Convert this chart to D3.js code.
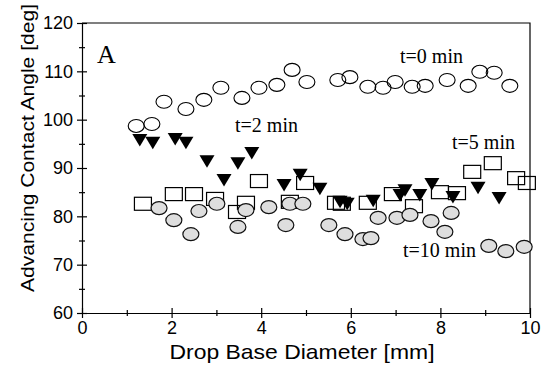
<!DOCTYPE html>
<html>
<head>
<meta charset="utf-8">
<script src="https://cdn.jsdelivr.net/npm/d3@7"></script>
<style>
  body { margin: 0; background: #fff; }
  .axis text { font-family: "Liberation Sans", Arial, sans-serif; font-size: 18px; fill: #000; }
  .axis path, .axis line { stroke: #000; stroke-width: 1.2; }
  .lbl { font-family: "Liberation Serif", "Times New Roman", serif; fill: #000; }
</style>
</head>
<body>
<div id="app"></div>
<script>
// t=0 min, open circles
const t0x = [1.21, 1.56, 1.83, 2.32, 2.72, 3.10, 3.57, 3.95, 4.35, 4.69, 5.02, 5.71, 5.98, 6.38, 6.72, 6.99, 7.37, 7.66, 8.15, 8.62, 8.88, 9.20, 9.55];
const t0y = [98.7, 99.1, 103.7, 102.2, 104.1, 106.6, 104.5, 106.6, 107.2, 110.3, 107.8, 108.2, 108.8, 106.8, 106.6, 107.8, 106.8, 107.0, 108.2, 107.0, 109.9, 109.7, 107.0];
// t=2 min, filled down triangles
const t2x = [1.29, 1.58, 2.08, 2.32, 2.79, 3.17, 3.48, 3.79, 4.51, 4.87, 5.31, 5.76, 5.92, 6.50, 7.10, 7.21, 7.54, 7.81, 8.28, 8.84, 9.31];
const t2y = [95.8, 95.2, 96.0, 95.2, 91.4, 87.5, 91.0, 93.1, 86.5, 88.6, 85.7, 83.0, 82.6, 83.2, 84.4, 85.4, 84.4, 86.7, 84.0, 85.9, 83.8];
// t=5 min, open squares
const t5x = [1.36, 2.05, 2.50, 2.97, 3.46, 3.66, 3.95, 4.64, 4.98, 5.67, 5.80, 6.38, 6.94, 7.41, 7.99, 8.37, 8.71, 9.17, 9.69, 9.93];
const t5y = [82.6, 84.6, 84.6, 83.6, 80.9, 82.8, 87.3, 83.0, 86.9, 82.8, 82.6, 82.8, 84.6, 82.1, 85.0, 84.8, 89.2, 91.0, 87.9, 86.9];
// t=10 min, grey circles
const t10x = [1.72, 2.05, 2.43, 2.61, 3.01, 3.48, 3.66, 4.17, 4.55, 4.64, 4.93, 5.51, 5.87, 6.27, 6.45, 6.61, 7.03, 7.32, 7.79, 8.10, 8.24, 9.08, 9.46, 9.87];
const t10y = [81.7, 79.2, 76.3, 81.1, 82.6, 77.8, 81.3, 81.9, 78.2, 82.6, 82.6, 78.2, 76.3, 75.3, 75.5, 79.7, 79.7, 80.3, 79.0, 76.8, 80.7, 73.9, 72.8, 73.7];

const xTicks = [0, 2, 4, 6, 8, 10];
const yTicks = [60, 70, 80, 90, 100, 110, 120];

const W = 541, H = 378;
const margin = { left: 82, right: 530, top: 23, bottom: 313 };

const xScale = d3.scaleLinear().domain([0, 10]).range([margin.left, margin.right]);
const yScale = d3.scaleLinear().domain([60, 120]).range([margin.bottom, margin.top]);

const svg = d3.select("#app").append("svg")
  .attr("width", W).attr("height", H);

const zip = (xs, ys) => xs.map((x, i) => ({ x: x, y: ys[i] }));

/* minor ticks */
const gx = svg.append("g").attr("class", "axis")
  .attr("transform", `translate(0,${margin.bottom})`);
gx.call(d3.axisBottom(xScale).tickValues(d3.range(1, 10, 2)).tickSize(3).tickFormat(""))
  .call(g => g.select(".domain").remove());
gx.selectAll(".tick line").attr("y1", -3);

const gy = svg.append("g").attr("class", "axis")
  .attr("transform", `translate(${margin.left},0)`);
gy.call(d3.axisLeft(yScale).tickValues(d3.range(65, 120, 10)).tickSize(3).tickFormat(""))
  .call(g => g.select(".domain").remove());
gy.selectAll(".tick line").attr("x1", 3);

/* major axes */
const ax = svg.append("g").attr("class", "axis")
  .attr("transform", `translate(0,${margin.bottom})`)
  .call(d3.axisBottom(xScale).tickValues(xTicks).tickSize(5).tickSizeOuter(0).tickPadding(3));
ax.selectAll(".tick line").attr("y1", -5);
ax.selectAll("text").style("font-size", "18px");

const ay = svg.append("g").attr("class", "axis")
  .attr("transform", `translate(${margin.left},0)`)
  .call(d3.axisLeft(yScale).tickValues(yTicks).tickSize(5).tickSizeOuter(0).tickPadding(4));
ay.selectAll(".tick line").attr("x1", 5);

/* frame top and right */
svg.append("path")
  .attr("d", `M${margin.left},${margin.top}H${margin.right}V${margin.bottom}`)
  .attr("fill", "none").attr("stroke", "#000").attr("stroke-width", 1.2);

/* t=5 squares */
svg.append("g").selectAll("rect")
  .data(zip(t5x, t5y)).enter().append("rect")
  .attr("x", d => xScale(d.x) - 8.5)
  .attr("y", d => yScale(d.y) - 6.5)
  .attr("width", 17).attr("height", 13)
  .attr("fill", "none").attr("stroke", "#000").attr("stroke-width", 1.2);

/* t=10 grey circles */
svg.append("g").selectAll("ellipse")
  .data(zip(t10x, t10y)).enter().append("ellipse")
  .attr("cx", d => xScale(d.x))
  .attr("cy", d => yScale(d.y))
  .attr("rx", 8).attr("ry", 6.5)
  .attr("fill", "#dedede").attr("stroke", "#111").attr("stroke-width", 1.2);

/* t=2 triangles */
svg.append("g").selectAll("path")
  .data(zip(t2x, t2y)).enter().append("path")
  .attr("d", d => {
    const cx = xScale(d.x), cy = yScale(d.y);
    return `M${cx - 7.5},${cy - 6}L${cx + 7.5},${cy - 6}L${cx},${cy + 6.5}Z`;
  })
  .attr("fill", "#000");

/* t=0 open circles */
svg.append("g").selectAll("ellipse")
  .data(zip(t0x, t0y)).enter().append("ellipse")
  .attr("cx", d => xScale(d.x))
  .attr("cy", d => yScale(d.y))
  .attr("rx", 8).attr("ry", 6.5)
  .attr("fill", "none").attr("stroke", "#000").attr("stroke-width", 1.1);

/* labels */
svg.append("text").attr("class", "lbl")
  .attr("x", 97).attr("y", 63).style("font-size", "26px").text("A");
svg.append("text").attr("class", "lbl")
  .attr("x", 400).attr("y", 63).style("font-size", "20px").text("t=0 min");
svg.append("text").attr("class", "lbl")
  .attr("x", 235).attr("y", 132).style("font-size", "20px").text("t=2 min");
svg.append("text").attr("class", "lbl")
  .attr("x", 452).attr("y", 149).style("font-size", "20px").text("t=5 min");
svg.append("text").attr("class", "lbl")
  .attr("x", 403).attr("y", 257).style("font-size", "20px").text("t=10 min");

/* axis titles */
svg.append("text")
  .attr("x", (margin.left + margin.right) / 2 - 4).attr("y", 359)
  .attr("text-anchor", "middle")
  .attr("textLength", 265).attr("lengthAdjust", "spacingAndGlyphs")
  .style("font-family", "Liberation Sans, Arial, sans-serif").style("font-size", "21px")
  .text("Drop Base Diameter [mm]");

svg.append("text")
  .attr("transform", "translate(34,148) rotate(-90)")
  .attr("text-anchor", "middle")
  .attr("textLength", 288).attr("lengthAdjust", "spacingAndGlyphs")
  .style("font-family", "Liberation Sans, Arial, sans-serif").style("font-size", "19px")
  .text("Advancing Contact Angle [deg]");
</script>
</body>
</html>
